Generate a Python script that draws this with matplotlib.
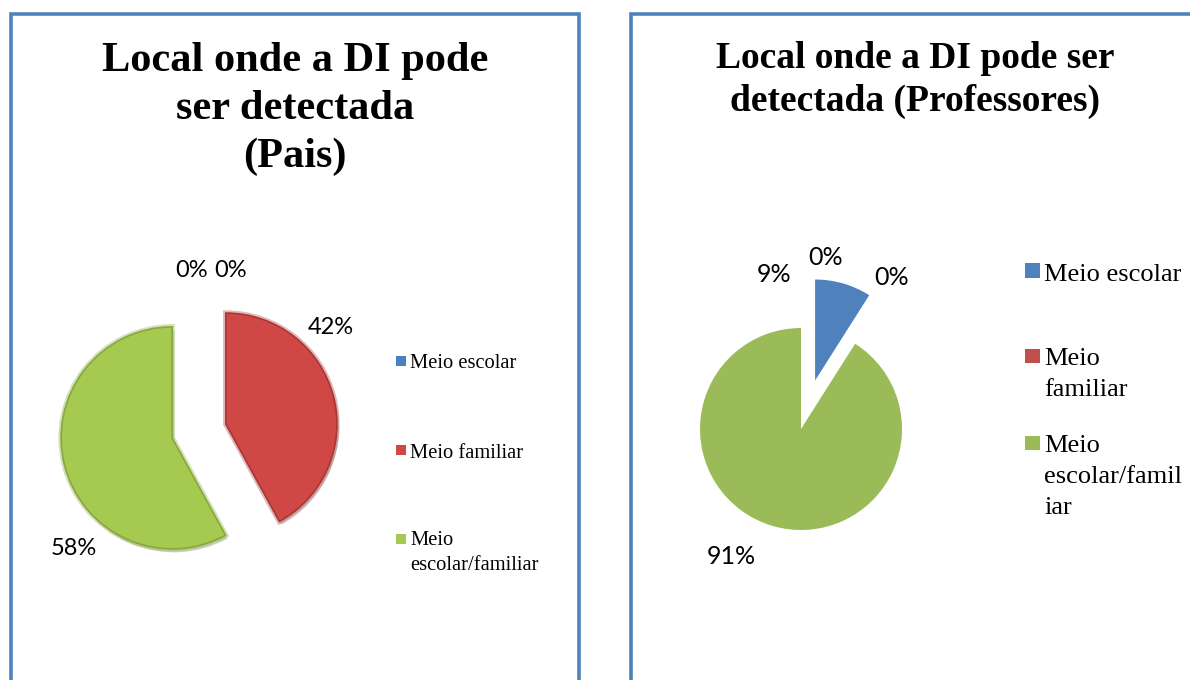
"""Two pie charts: where intellectual disability (DI) can be detected, parents vs teachers."""

import matplotlib.pyplot as plt
import matplotlib.patheffects as pe
from matplotlib.patches import Rectangle

# ---- data -----------------------------------------------------------------
categories = ["Meio escolar", "Meio familiar", "Meio escolar/familiar"]
pais_pct = [0, 42, 58]
prof_pct = [9, 0, 91]

# legend text as it is wrapped in each chart
pais_legend = ["Meio escolar", "Meio familiar", "Meio\nescolar/familiar"]
prof_legend = ["Meio escolar", "Meio\nfamiliar", "Meio\nescolar/famil\niar"]

flat_colors = ["#4F81BD", "#C0504D", "#9BBB59"]
bevel_face = ["#4A7FC0", "#D04846", "#A6C94F"]
bevel_edge = ["#3A6699", "#A83634", "#86A83C"]

W, H = 1190, 680
SERIF = "Liberation Serif"
SANS = "Lato"


def fx(x):
    return x / W


def fy(y):
    return 1 - y / H


def pie_axes(fig, cx, cy, r):
    # square axes centred on (cx, cy) px, two radii each way
    half = 2 * r
    ax = fig.add_axes([fx(cx - half), fy(cy + half), 2 * half / W, 2 * half / H])
    return ax


def legend(fig, labels, colors, rows, x_box, box, x_text, size, lead):
    for lab, col, (y_box, y_base) in zip(labels, colors, rows):
        fig.add_artist(Rectangle((fx(x_box), fy(y_box + box / 2)), box / W, box / H,
                                 transform=fig.transFigure, facecolor=col,
                                 edgecolor="none"))
        for k, line in enumerate(lab.split("\n")):
            fig.text(fx(x_text), fy(y_base + k * lead), line, ha="left",
                     va="baseline", fontsize=size, family=SERIF)


fig = plt.figure(figsize=(W / 100, H / 100), dpi=100)

# panel frames
for x0, x1 in [(11, 579), (631, 1230)]:
    fig.add_artist(Rectangle((fx(x0), fy(720)), (x1 - x0) / W, (720 - 14) / H,
                             transform=fig.transFigure, facecolor="none",
                             edgecolor="#4F81BD", linewidth=2.6))

# ---- left: Pais ------------------------------------------------------------
for line, base in zip(["Local onde a DI pode", "ser detectada", "(Pais)"],
                      [71.5, 119, 167]):
    fig.text(fx(295), fy(base), line, ha="center", va="baseline",
             fontsize=30.5, fontweight="bold", family=SERIF)

ax1 = pie_axes(fig, 199, 431, 111)
wedges, _ = ax1.pie(pais_pct, colors=bevel_face, startangle=90,
                    counterclock=False, explode=[0.25, 0.25, 0.25],
                    wedgeprops=dict(linewidth=0))
for w, ec, v in zip(wedges, bevel_edge, pais_pct):
    if v == 0:
        w.set_visible(False)
        continue
    w.set_edgecolor(ec)
    w.set_linewidth(1.2)
    # soft darker rim + faint drop shadow, like the bevelled original
    w.set_path_effects([pe.SimplePatchShadow(offset=(1.5, -2.5), alpha=0.2),
                        pe.Stroke(linewidth=4, foreground=ec, alpha=0.35),
                        pe.Normal()])
ax1.set_xlim(-2, 2)
ax1.set_ylim(-2, 2)
ax1.set_aspect("equal")
ax1.axis("off")

pais_lbl_pos = [(192, 277), (331, 334), (74, 555)]
for v, (x, y) in zip(pais_pct, pais_lbl_pos):
    fig.text(fx(x), fy(y), f"{v}%", ha="center", va="baseline",
             fontsize=17, family=SANS)
# second zero label printed next to the first one in the original
fig.text(fx(231), fy(277), "0%", ha="center", va="baseline", fontsize=17, family=SANS)

legend(fig, pais_legend, bevel_face, [(361, 368), (449.5, 457.5), (538.5, 545)],
       396, 10, 410, 14.8, 25)

# ---- right: Professores ----------------------------------------------------
for line, base in zip(["Local onde a DI pode ser", "detectada (Professores)"],
                      [68.5, 110.6]):
    fig.text(fx(915), fy(base), line, ha="center", va="baseline",
             fontsize=27, fontweight="bold", family=SERIF)

ax2 = pie_axes(fig, 801, 429, 101)
wedges2, _ = ax2.pie(prof_pct, colors=flat_colors, startangle=90,
                     counterclock=False, explode=[0.5, 0, 0],
                     wedgeprops=dict(linewidth=0))
ax2.set_xlim(-2, 2)
ax2.set_ylim(-2, 2)
ax2.set_aspect("equal")
ax2.axis("off")

prof_lbl_pos = [(774, 282), (892, 285), (731, 564)]
for v, (x, y) in zip(prof_pct, prof_lbl_pos):
    fig.text(fx(x), fy(y), f"{v}%", ha="center", va="baseline",
             fontsize=18, family=SANS)
fig.text(fx(826), fy(265), "0%", ha="center", va="baseline", fontsize=18, family=SANS)

legend(fig, prof_legend, flat_colors, [(270.5, 280.7), (356, 365), (443, 451.7)],
       1025, 14.5, 1044, 19, 31)

fig.savefig("out.png", dpi=100)
